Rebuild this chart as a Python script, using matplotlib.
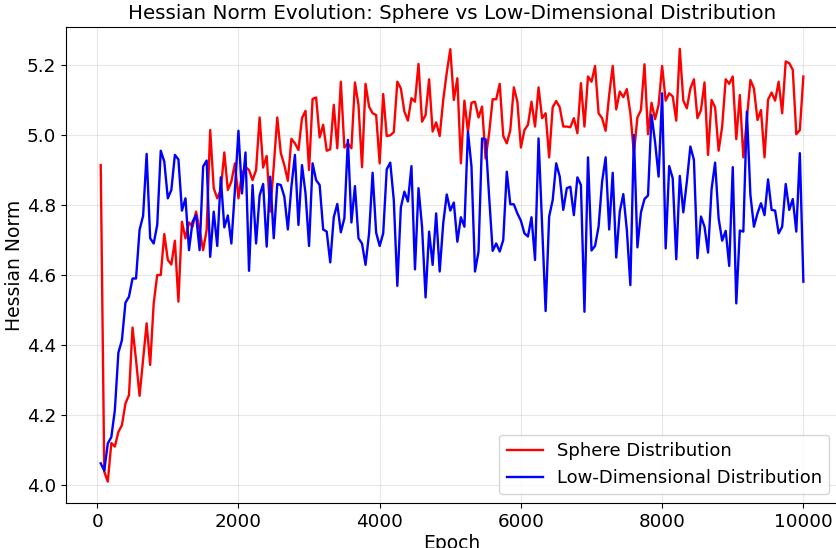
import matplotlib
matplotlib.use("Agg")
import matplotlib.pyplot as plt
import numpy as np

epochs = list(range(50, 10001, 50))

sphere = [
    4.914, 4.038, 4.010, 4.120, 4.110, 4.152, 4.171, 4.233, 4.257, 4.450,
    4.357, 4.255, 4.357, 4.462, 4.343, 4.519, 4.600, 4.600, 4.717, 4.643,
    4.630, 4.698, 4.524, 4.752, 4.705, 4.750, 4.738, 4.781, 4.729, 4.671,
    4.729, 5.014, 4.848, 4.819, 4.843, 4.950, 4.843, 4.867, 4.919, 4.819,
    4.890, 4.908, 4.900, 4.871, 4.900, 5.050, 4.907, 4.940, 4.781, 4.910,
    5.050, 4.948, 4.914, 4.869, 4.989, 4.976, 4.957, 5.048, 5.069, 4.900,
    5.103, 5.107, 4.993, 5.029, 4.955, 4.959, 5.086, 4.962, 5.152, 4.964,
    4.976, 4.962, 5.150, 5.086, 4.908, 5.146, 5.081, 5.062, 5.057, 4.919,
    5.117, 4.997, 4.999, 5.008, 5.152, 5.133, 5.067, 5.041, 5.105, 5.095,
    5.203, 5.038, 5.057, 5.159, 5.010, 5.036, 4.997, 5.100, 5.178, 5.245,
    5.100, 5.162, 4.919, 5.098, 5.010, 5.092, 5.095, 5.050, 5.081, 4.933,
    5.005, 5.102, 5.102, 5.146, 4.997, 4.976, 5.014, 5.136, 5.095, 4.964,
    5.014, 5.029, 5.095, 5.024, 5.136, 5.048, 5.062, 4.936, 5.079, 5.097,
    5.079, 5.024, 5.024, 5.022, 5.048, 5.005, 5.148, 5.024, 5.167, 5.152,
    5.197, 5.062, 5.048, 5.012, 5.114, 5.197, 5.073, 5.124, 5.108, 5.131,
    5.062, 4.948, 5.050, 5.071, 5.202, 5.002, 5.092, 5.045, 5.086, 5.197,
    5.098, 5.119, 5.110, 5.041, 5.246, 5.098, 5.076, 5.133, 5.159, 5.048,
    5.071, 5.150, 4.943, 5.100, 5.079, 4.955, 5.024, 5.159, 5.146, 5.167,
    4.988, 5.114, 4.936, 5.048, 5.157, 5.133, 5.043, 5.071, 4.936, 5.101,
    5.121, 5.098, 5.152, 5.062, 5.210, 5.205, 5.186, 5.002, 5.014, 5.167,
]

lowdim = [
    4.062, 4.041, 4.119, 4.137, 4.214, 4.378, 4.414, 4.521, 4.538, 4.590,
    4.590, 4.729, 4.769, 4.946, 4.705, 4.690, 4.743, 4.955, 4.924, 4.819,
    4.843, 4.943, 4.930, 4.784, 4.819, 4.671, 4.752, 4.771, 4.671, 4.910,
    4.927, 4.652, 4.781, 4.683, 4.879, 4.736, 4.770, 4.690, 4.843, 5.012,
    4.833, 4.950, 4.612, 4.857, 4.690, 4.827, 4.860, 4.681, 4.881, 4.705,
    4.860, 4.857, 4.824, 4.730, 4.852, 4.943, 4.743, 4.914, 4.833, 4.683,
    4.919, 4.871, 4.857, 4.730, 4.724, 4.636, 4.765, 4.803, 4.722, 4.762,
    4.986, 4.750, 4.854, 4.705, 4.690, 4.629, 4.719, 4.892, 4.721, 4.683,
    4.719, 4.902, 4.921, 4.814, 4.569, 4.793, 4.838, 4.810, 4.911, 4.616,
    4.848, 4.738, 4.536, 4.724, 4.629, 4.776, 4.610, 4.748, 4.830, 4.784,
    4.807, 4.695, 4.765, 4.738, 5.010, 4.910, 4.610, 4.667, 4.990, 4.988,
    4.824, 4.669, 4.690, 4.667, 4.700, 4.895, 4.802, 4.802, 4.776, 4.755,
    4.719, 4.710, 4.765, 4.643, 4.990, 4.740, 4.497, 4.767, 4.814, 4.919,
    4.881, 4.786, 4.848, 4.852, 4.771, 4.879, 4.857, 4.495, 4.936, 4.670,
    4.683, 4.738, 4.867, 4.936, 4.730, 4.892, 4.650, 4.781, 4.831, 4.729,
    4.571, 5.000, 4.679, 4.779, 4.817, 4.827, 5.057, 4.980, 4.881, 5.119,
    4.676, 4.911, 4.876, 4.645, 4.883, 4.779, 4.867, 4.967, 4.929, 4.648,
    4.767, 4.738, 4.664, 4.845, 4.921, 4.762, 4.698, 4.726, 4.626, 4.908,
    4.519, 4.727, 4.724, 5.067, 4.829, 4.738, 4.776, 4.805, 4.771, 4.873,
    4.786, 4.784, 4.719, 4.738, 4.860, 4.786, 4.817, 4.724, 4.948, 4.581,
]

W, H = 837, 548
fig = plt.figure(figsize=(W / 100, H / 100), dpi=100)
ax = fig.add_axes([65.6 / W, (H - 503.2) / H, (838.5 - 65.6) / W, (503.2 - 27.2) / H])

ax.plot(epochs, sphere, color="red", lw=1.7, label="Sphere Distribution")
ax.plot(epochs, lowdim, color="blue", lw=1.7, label="Low-Dimensional Distribution")

ax.set_title("Hessian Norm Evolution: Sphere vs Low-Dimensional Distribution", fontsize=14.3)
ax.set_xlabel("Epoch", fontsize=13.5, labelpad=2)
ax.set_ylabel("Hessian Norm", fontsize=13.5, labelpad=2)
ax.tick_params(labelsize=13.2)
ax.grid(True, alpha=0.3)
ax.legend(loc="lower right", fontsize=13)

fig.savefig("out.png", dpi=100)
